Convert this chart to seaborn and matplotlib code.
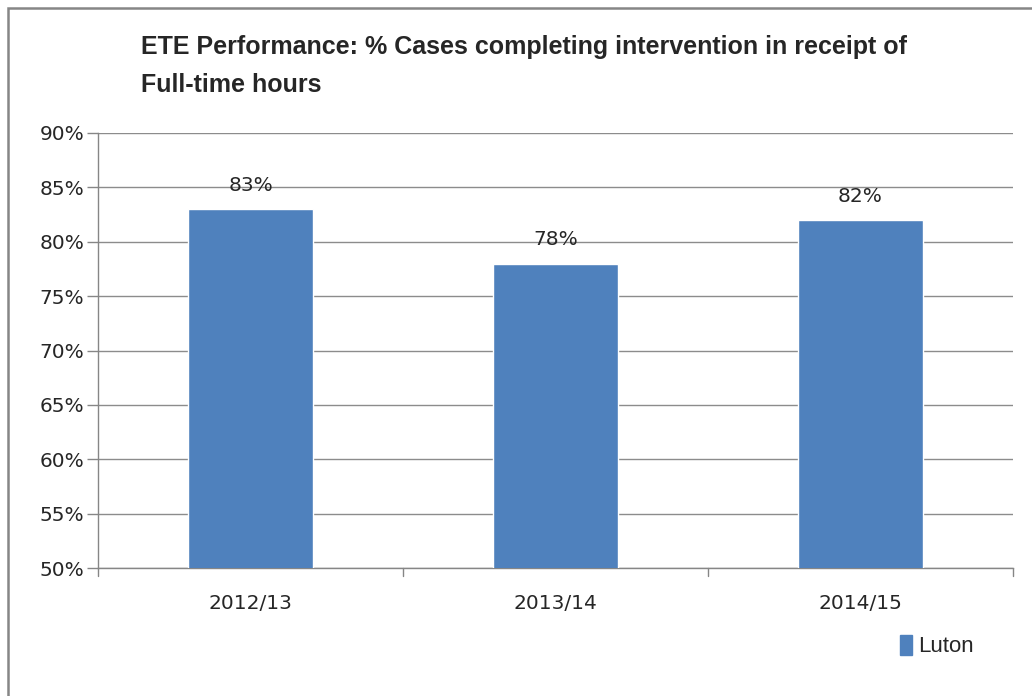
import pandas as pd
import seaborn as sns
import matplotlib.pyplot as plt
from matplotlib.patches import Rectangle, Patch

years = ["2012/13", "2013/14", "2014/15"]
luton = [83, 78, 82]
y_ticks = [50, 55, 60, 65, 70, 75, 80, 85, 90]

df = pd.DataFrame({"year": years, "pct": luton})

sns.set_style("white")
plt.rcParams["font.family"] = ["Liberation Sans", "DejaVu Sans"]

fig = plt.figure(figsize=(10.32, 6.96), dpi=100)
ax = fig.add_axes([98 / 1032, 1 - 568 / 696, (1013 - 98) / 1032, (568 - 133) / 696])

bar_color = "#4F81BD"
sns.barplot(data=df, x="year", y="pct", color=bar_color, width=0.41, ax=ax,
            saturation=1, zorder=3)

ax.set_ylim(50, 90)
ax.set_yticks(y_ticks)
ax.set_yticklabels([f"{v}%" for v in y_ticks], fontsize=14.5, family="DejaVu Sans")
ax.set_xlim(-0.5, 2.5)
ax.set_xticks([0, 1, 2])
ax.set_xticklabels(years, fontsize=14.5, family="DejaVu Sans")
ax.tick_params(axis="x", length=0, pad=19)
ax.tick_params(axis="y", length=8, color="#868686", width=1, pad=2, direction="out", left=True)
# tick marks between categories on the x axis
for xb in [-0.5, 0.5, 1.5, 2.5]:
    ax.plot([xb, xb], [50, 49.3], color="#868686", lw=1, clip_on=False, zorder=4)

ax.set_xlabel("")
ax.set_ylabel("")
ax.yaxis.grid(True, color="#8C8C8C", lw=1)
ax.set_axisbelow(True)
for side in ["top", "right"]:
    ax.spines[side].set_visible(False)
for side in ["left", "bottom"]:
    ax.spines[side].set_color("#868686")
    ax.spines[side].set_linewidth(1)

for i, v in enumerate(luton):
    ax.text(i, v + 1.3, f"{v}%", ha="center", va="bottom", fontsize=14.5, family="DejaVu Sans")

fig.text(141 / 1032, 1 - 66 / 696, "ETE Performance: % Cases completing intervention in receipt of\nFull-time hours",
         ha="left", va="center", fontsize=18, fontweight="bold", linespacing=1.7)

fig.legend(handles=[Patch(color=bar_color, label="Luton")], loc="center left",
           bbox_to_anchor=(880 / 1032, 1 - 646 / 696), frameon=False, fontsize=16,
           handlelength=0.55, handleheight=1.0, handletextpad=0.25)

fig.patches.append(Rectangle((8 / 1032, -0.1), 1.2, (1 - 8 / 696) + 0.1, transform=fig.transFigure,
                             fill=False, edgecolor="#868686", lw=1.8))

fig.savefig("out.png", dpi=100)
